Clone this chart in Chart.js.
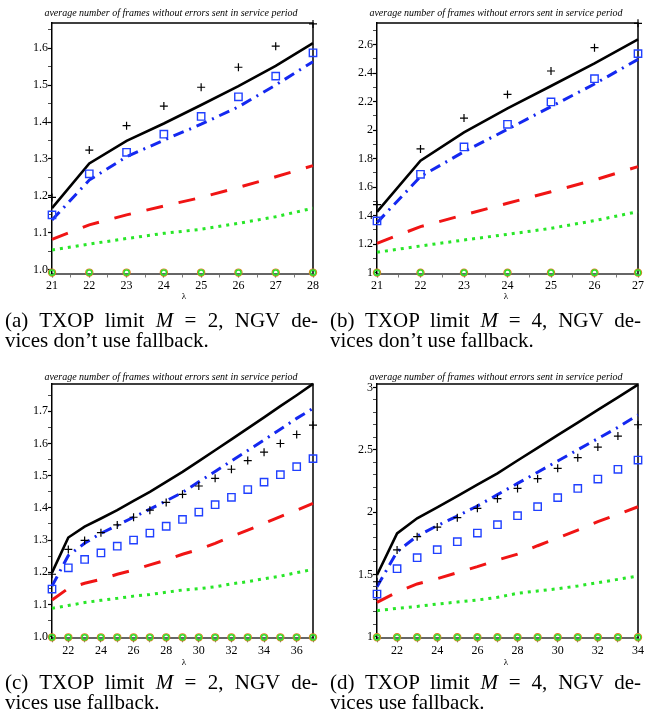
<!DOCTYPE html>
<html>
<head>
<meta charset="utf-8">
<script src="https://cdn.jsdelivr.net/npm/chart.js@4.4.0/dist/chart.umd.min.js"></script>
<style>
  body { margin: 0; width: 645px; height: 719px; position: relative; background: #fff; overflow: hidden;
         font-family: 'Liberation Serif', 'Times New Roman', serif; color: #000; }
  canvas { position: absolute; }
  .ttl { position: absolute; font-style: italic; font-size: 10px; line-height: 12px; white-space: nowrap; transform: translateX(-50%); }
  .lam { position: absolute; font-size: 9px; line-height: 10px; transform: translateX(-50%); }
  .cap { position: absolute; font-size: 21px; line-height: 20px; white-space: nowrap; }
  .cap.j { text-align: justify; text-align-last: justify; white-space: normal; }
</style>
</head>
<body>

<canvas id="chartA" width="320" height="292" style="left:0;top:0"></canvas>
<canvas id="chartB" width="320" height="292" style="left:325px;top:0"></canvas>
<canvas id="chartC" width="320" height="305" style="left:0;top:360px"></canvas>
<canvas id="chartD" width="320" height="305" style="left:325px;top:360px"></canvas>

<div class="ttl" style="left:171px;top:7px">average number of frames without errors sent in service period</div>
<div class="ttl" style="left:496px;top:7px">average number of frames without errors sent in service period</div>
<div class="ttl" style="left:171px;top:371px">average number of frames without errors sent in service period</div>
<div class="ttl" style="left:496px;top:371px">average number of frames without errors sent in service period</div>

<div class="lam" style="left:184px;top:291px">λ</div>
<div class="lam" style="left:506px;top:291px">λ</div>
<div class="lam" style="left:184px;top:657px">λ</div>
<div class="lam" style="left:506px;top:657px">λ</div>

<div class="cap j" style="left:5px;top:310px;width:313px">(a) TXOP limit <i>M</i> = 2, NGV de-</div>
<div class="cap" style="left:5px;top:330px">vices don’t use fallback.</div>
<div class="cap j" style="left:330px;top:310px;width:311px">(b) TXOP limit <i>M</i> = 4, NGV de-</div>
<div class="cap" style="left:330px;top:330px">vices don’t use fallback.</div>
<div class="cap j" style="left:5px;top:672px;width:313px">(c) TXOP limit <i>M</i> = 2, NGV de-</div>
<div class="cap" style="left:5px;top:692px">vices use fallback.</div>
<div class="cap j" style="left:330px;top:672px;width:311px">(d) TXOP limit <i>M</i> = 4, NGV de-</div>
<div class="cap" style="left:330px;top:692px">vices use fallback.</div>

<script>
// (a) M = 2, no fallback
const lambdaA = [21, 22, 23, 24, 25, 26, 27, 28];
const blackA  = [1.167, 1.288, 1.349, 1.396, 1.446, 1.497, 1.552, 1.613];
const plusA   = [1.196, 1.324, 1.390, 1.443, 1.494, 1.548, 1.605, 1.665];
const blueA   = [1.135, 1.243, 1.306, 1.351, 1.394, 1.441, 1.500, 1.563];
const squareA = [1.149, 1.260, 1.318, 1.367, 1.415, 1.468, 1.524, 1.587];
const redA    = [1.083, 1.122, 1.149, 1.173, 1.196, 1.223, 1.252, 1.282];
const greenA  = [1.054, 1.070, 1.085, 1.099, 1.110, 1.126, 1.144, 1.167];
const circleA = [0.993, 0.993, 0.993, 0.993, 0.993, 0.993, 0.993, 0.993];
const yTicksA  = [1.0, 1.1, 1.2, 1.3, 1.4, 1.5, 1.6];
const yLabelsA = ['1.0', '1.1', '1.2', '1.3', '1.4', '1.5', '1.6'];
const xTicksA  = [21, 22, 23, 24, 25, 26, 27, 28];

// (b) M = 4, no fallback
const lambdaB = [21, 22, 23, 24, 25, 26, 27];
const blackB  = [1.426, 1.786, 1.985, 2.153, 2.310, 2.469, 2.637];
const plusB   = [1.477, 1.868, 2.085, 2.251, 2.415, 2.579, 2.750];
const blueB   = [1.351, 1.674, 1.849, 2.006, 2.165, 2.324, 2.497];
const squareB = [1.363, 1.690, 1.882, 2.041, 2.198, 2.361, 2.537];
const redB    = [1.206, 1.323, 1.405, 1.487, 1.568, 1.650, 1.744];
const greenB  = [1.143, 1.187, 1.229, 1.269, 1.311, 1.365, 1.428];
const circleB = [1.0, 1.0, 1.0, 1.0, 1.0, 1.0, 1.0];
const yTicksB  = [1, 1.2, 1.4, 1.6, 1.8, 2, 2.2, 2.4, 2.6];
const yLabelsB = ['1', '1.2', '1.4', '1.6', '1.8', '2', '2.2', '2.4', '2.6'];
const xTicksB  = [21, 22, 23, 24, 25, 26, 27];

// (c) M = 2, fallback
const lambdaC = [21, 22, 23, 24, 25, 26, 27, 28, 29, 30, 31, 32, 33, 34, 35, 36, 37];
const blackC  = [1.199, 1.308, 1.342, 1.367, 1.393, 1.422, 1.450, 1.481, 1.512, 1.545, 1.579, 1.613, 1.647, 1.681, 1.716, 1.750, 1.785];
const plusC   = [1.194, 1.271, 1.299, 1.323, 1.347, 1.371, 1.393, 1.417, 1.442, 1.468, 1.492, 1.520, 1.547, 1.573, 1.600, 1.628, 1.657];
const blueC   = [1.157, 1.252, 1.290, 1.321, 1.346, 1.371, 1.396, 1.422, 1.448, 1.481, 1.513, 1.546, 1.578, 1.611, 1.644, 1.678, 1.709];
const squareC = [1.148, 1.214, 1.240, 1.260, 1.281, 1.300, 1.322, 1.343, 1.364, 1.387, 1.410, 1.433, 1.457, 1.480, 1.503, 1.528, 1.553];
const redC    = [1.114, 1.150, 1.166, 1.178, 1.194, 1.207, 1.223, 1.238, 1.256, 1.271, 1.290, 1.311, 1.331, 1.352, 1.373, 1.393, 1.414];
const greenC  = [1.088, 1.097, 1.106, 1.113, 1.119, 1.126, 1.131, 1.138, 1.145, 1.149, 1.155, 1.164, 1.171, 1.180, 1.188, 1.199, 1.209];
const circleC = [0.998, 0.998, 0.998, 0.998, 0.998, 0.998, 0.998, 0.998, 0.998, 0.998, 0.998, 0.998, 0.998, 0.998, 0.998, 0.998, 0.998];
const yTicksC  = [1.0, 1.1, 1.2, 1.3, 1.4, 1.5, 1.6, 1.7];
const yLabelsC = ['1.0', '1.1', '1.2', '1.3', '1.4', '1.5', '1.6', '1.7'];
const xTicksC  = [22, 24, 26, 28, 30, 32, 34, 36];

// (d) M = 4, fallback
const lambdaD = [21, 22, 23, 24, 25, 26, 27, 28, 29, 30, 31, 32, 33, 34];
const blackD  = [1.495, 1.829, 1.950, 2.038, 2.129, 2.220, 2.311, 2.414, 2.515, 2.617, 2.718, 2.820, 2.921, 3.023];
const plusD   = [1.441, 1.696, 1.803, 1.880, 1.955, 2.030, 2.108, 2.190, 2.268, 2.351, 2.437, 2.522, 2.610, 2.701];
const blueD   = [1.401, 1.682, 1.808, 1.891, 1.968, 2.049, 2.140, 2.230, 2.320, 2.410, 2.500, 2.590, 2.680, 2.780];
const squareD = [1.342, 1.546, 1.634, 1.698, 1.762, 1.832, 1.899, 1.971, 2.043, 2.116, 2.190, 2.265, 2.343, 2.418];
const redD    = [1.276, 1.358, 1.423, 1.465, 1.514, 1.562, 1.615, 1.663, 1.730, 1.792, 1.856, 1.923, 1.982, 2.043];
const greenD  = [1.209, 1.227, 1.243, 1.262, 1.278, 1.294, 1.316, 1.348, 1.367, 1.385, 1.407, 1.433, 1.460, 1.487];
const circleD = [0.995, 0.995, 0.995, 0.995, 0.995, 0.995, 0.995, 0.995, 0.995, 0.995, 0.995, 0.995, 0.995, 0.995];
const yTicksD  = [1, 1.5, 2, 2.5, 3];
const yLabelsD = ['1', '1.5', '2', '2.5', '3'];
const xTicksD  = [22, 24, 26, 28, 30, 32, 34];

Chart.defaults.font.family = "'Liberation Serif', 'Times New Roman', serif";
Chart.defaults.color = '#000';

// frame on top and right of the plot box
const frame = {
  id: 'frame',
  beforeDatasetsDraw(chart) {
    const a = chart.chartArea, c = chart.ctx;
    c.save();
    c.strokeStyle = '#000';
    c.lineWidth = 1.5;
    c.beginPath();
    c.moveTo(a.left, a.top);
    c.lineTo(a.right, a.top);
    c.lineTo(a.right, a.bottom);
    c.stroke();
    c.restore();
  }
};

function stepTicks(min, max, step) {
  const out = [];
  for (let k = Math.ceil(min / step - 1e-9); k * step <= max + 1e-9; k++) {
    out.push({ value: +(k * step).toFixed(6) });
  }
  return out;
}

function findTick(v, list) {
  return list.findIndex(t => Math.abs(t - v) < 1e-6);
}

function makePanel(id, p) {
  const pts = arr => p.lambda.map((x, i) => ({ x: x, y: arr[i] }));
  const mark = { showLine: false, pointBackgroundColor: 'rgba(0,0,0,0)', clip: false };
  const line = { pointRadius: 0, fill: false, tension: 0, clip: false, borderCapStyle: 'butt' };

  new Chart(document.getElementById(id), {
    type: 'line',
    data: {
      datasets: [
        { ...mark, data: pts(p.circle), pointStyle: 'circle', pointRadius: 2.6, pointBorderColor: '#2ee02e', pointBorderWidth: 1.5 },
        { ...mark, data: pts(p.circle), pointStyle: 'circle', pointRadius: 3.6, pointBorderColor: '#e08020', pointBorderWidth: 1.2 },
        { ...mark, data: pts(p.plus), pointStyle: 'cross', pointRadius: 4, pointBorderColor: '#000', pointBorderWidth: 1.2 },
        { ...mark, data: pts(p.square), pointStyle: 'rect', pointRadius: 5.2, pointBorderColor: '#2040ff', pointBorderWidth: 1.4 },
        { ...line, data: pts(p.black), borderColor: '#000', borderWidth: 2.6 },
        { ...line, data: pts(p.blue), borderColor: '#1428f0', borderWidth: 3, borderDash: [11, 6, 2, 6] },
        { ...line, data: pts(p.red), borderColor: '#f01414', borderWidth: 3, borderDash: [17, 16] },
        { ...line, data: pts(p.green), borderColor: '#28e628', borderWidth: 3, borderDash: [3, 5] }
      ]
    },
    options: {
      responsive: false,
      animation: false,
      events: [],
      layout: { autoPadding: false, padding: { top: p.padTop, right: 7, left: 0, bottom: 0 } },
      plugins: { legend: { display: false }, tooltip: { enabled: false }, title: { display: false } },
      scales: {
        x: {
          type: 'linear', min: p.xMin, max: p.xMax,
          afterBuildTicks: s => { s.ticks = stepTicks(p.xMin, p.xMax, p.xMinor); },
          afterFit: s => { s.height = p.xAxisH; },
          ticks: {
            autoSkip: false, maxRotation: 0, padding: 1, font: { size: 12 },
            callback: v => findTick(v, p.xTicks) >= 0 ? String(v) : ''
          },
          grid: {
            drawOnChartArea: false, tickLength: 4, color: '#555',
            tickWidth: c => findTick(c.tick.value, p.xTicks) >= 0 ? 1.2 : 0.8
          },
          border: { color: '#666', width: 2 }
        },
        y: {
          type: 'linear', min: p.yMin, max: p.yMax,
          afterBuildTicks: s => { s.ticks = stepTicks(p.yMin, p.yMax, p.yMinor); },
          afterFit: s => { s.width = 52; },
          ticks: {
            autoSkip: false, padding: 0, font: { size: 12 },
            callback: v => { const i = findTick(v, p.yTicks); return i >= 0 ? p.yLabels[i] : ''; }
          },
          grid: {
            drawOnChartArea: false, tickLength: 4, color: '#000',
            tickWidth: c => findTick(c.tick.value, p.yTicks) >= 0 ? 1.2 : 0.7
          },
          border: { color: '#000', width: 1.5 }
        }
      }
    },
    plugins: [frame]
  });
}

makePanel('chartA', {
  lambda: lambdaA, black: blackA, plus: plusA, blue: blueA, square: squareA, red: redA, green: greenA, circle: circleA,
  xMin: 21, xMax: 28, xMinor: 0.5, xTicks: xTicksA,
  yMin: 0.9905, yMax: 1.6676, yMinor: 0.05, yTicks: yTicksA, yLabels: yLabelsA,
  padTop: 23, xAxisH: 18.5
});
makePanel('chartB', {
  lambda: lambdaB, black: blackB, plus: plusB, blue: blueB, square: squareB, red: redB, green: greenB, circle: circleB,
  xMin: 21, xMax: 27, xMinor: 0.5, xTicks: xTicksB,
  yMin: 0.994, yMax: 2.752, yMinor: 0.1, yTicks: yTicksB, yLabels: yLabelsB,
  padTop: 23, xAxisH: 18.5
});
makePanel('chartC', {
  lambda: lambdaC, black: blackC, plus: plusC, blue: blueC, square: squareC, red: redC, green: greenC, circle: circleC,
  xMin: 21, xMax: 37, xMinor: 1, xTicks: xTicksC,
  yMin: 0.995, yMax: 1.7848, yMinor: 0.05, yTicks: yTicksC, yLabels: yLabelsC,
  padTop: 24, xAxisH: 26.7
});
makePanel('chartD', {
  lambda: lambdaD, black: blackD, plus: plusD, blue: blueD, square: squareD, red: redD, green: greenD, circle: circleD,
  xMin: 21, xMax: 34, xMinor: 1, xTicks: xTicksD,
  yMin: 0.987, yMax: 3.028, yMinor: 0.1, yTicks: yTicksD, yLabels: yLabelsD,
  padTop: 24, xAxisH: 26.7
});
</script>
</body>
</html>
